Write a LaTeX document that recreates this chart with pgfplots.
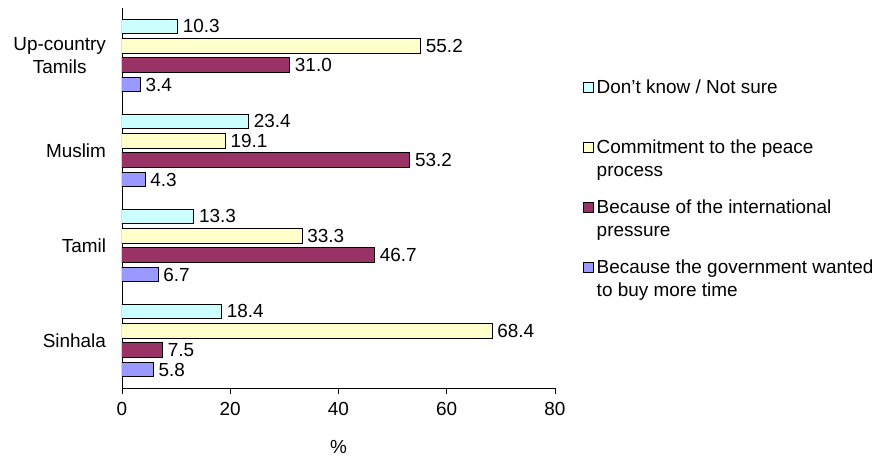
\documentclass[border=0pt]{standalone}
\usepackage{fontspec}
\setmainfont{Liberation Sans}
\usepackage{pgfplots}
\pgfplotsset{compat=1.18}
\definecolor{cDK}{HTML}{CCFFFF}
\definecolor{cCP}{HTML}{FFFFCC}
\definecolor{cIP}{HTML}{993366}
\definecolor{cGT}{HTML}{9999FF}
\begin{document}
\begin{tikzpicture}[font=\fontsize{14.2pt}{17.25pt}\selectfont]
\useasboundingbox (-91.5pt,-57pt) rectangle (574.5pt,291pt);
\begin{axis}[
  at={(0,0)}, anchor=south west,
  width=324.75pt, height=285pt, scale only axis,
  xbar, bar width=0.153,
  xmin=0, xmax=80, ymin=-0.5, ymax=3.5,
  axis x line*=bottom, axis y line*=left,
  axis line style={black, line width=0.6pt, -},
  every tick/.style={black, line width=0.6pt},
  tick align=outside,
  xtick={0,20,40,60,80},
  ytick={0,1,2,3},
  yticklabels={Sinhala,Tamil,Muslim,{Up-country\\Tamils}},
  major tick length=4.5pt,
  y tick style={draw=none},
  extra y ticks={-0.5,0.5,1.5,2.5,3.5},
  extra y tick labels={},
  extra y tick style={major tick length=4.5pt, tick style={draw=black}},
  /pgf/number format/assume math mode=true,
  yticklabel style={align=center, anchor=east, xshift=-4pt},
  xticklabel style={anchor=base, yshift=-16pt},
  xlabel={\%},
  xlabel style={at={(axis description cs:0.5,-0.155)}, anchor=center},
  point meta=x,
  nodes near coords={\pgfmathprintnumber[fixed,fixed zerofill,precision=1]{\pgfplotspointmeta}},
  every node near coord/.append style={anchor=west, inner sep=3.5pt, black},
  legend cell align=left,
  legend style={at={(1.055,0.826)}, anchor=north west, draw=none, fill=none,
    row sep=12pt, cells={align=left}},
  legend image code/.code={\draw[#1, draw=black, line width=0.75pt] (0pt,4.85pt) rectangle (7.5pt,12.35pt);},
]
\addplot[fill=cDK, draw=black, line width=0.75pt, bar shift=0.3075] coordinates {(18.4,0) (13.3,1) (23.4,2) (10.3,3)};
\addlegendentry{Don't know / Not sure\\\mbox{}}
\addplot[fill=cCP, draw=black, line width=0.75pt, bar shift=0.1025] coordinates {(68.4,0) (33.3,1) (19.1,2) (55.2,3)};
\addlegendentry{Commitment to the peace\\process}
\addplot[fill=cIP, draw=black, line width=0.75pt, bar shift=-0.1025] coordinates {(7.5,0) (46.7,1) (53.2,2) (31.0,3)};
\addlegendentry{Because of the international\\pressure}
\addplot[fill=cGT, draw=black, line width=0.75pt, bar shift=-0.3075] coordinates {(5.8,0) (6.7,1) (4.3,2) (3.4,3)};
\addlegendentry{Because the government wanted\\to buy more time}
\end{axis}
\end{tikzpicture}
\end{document}
